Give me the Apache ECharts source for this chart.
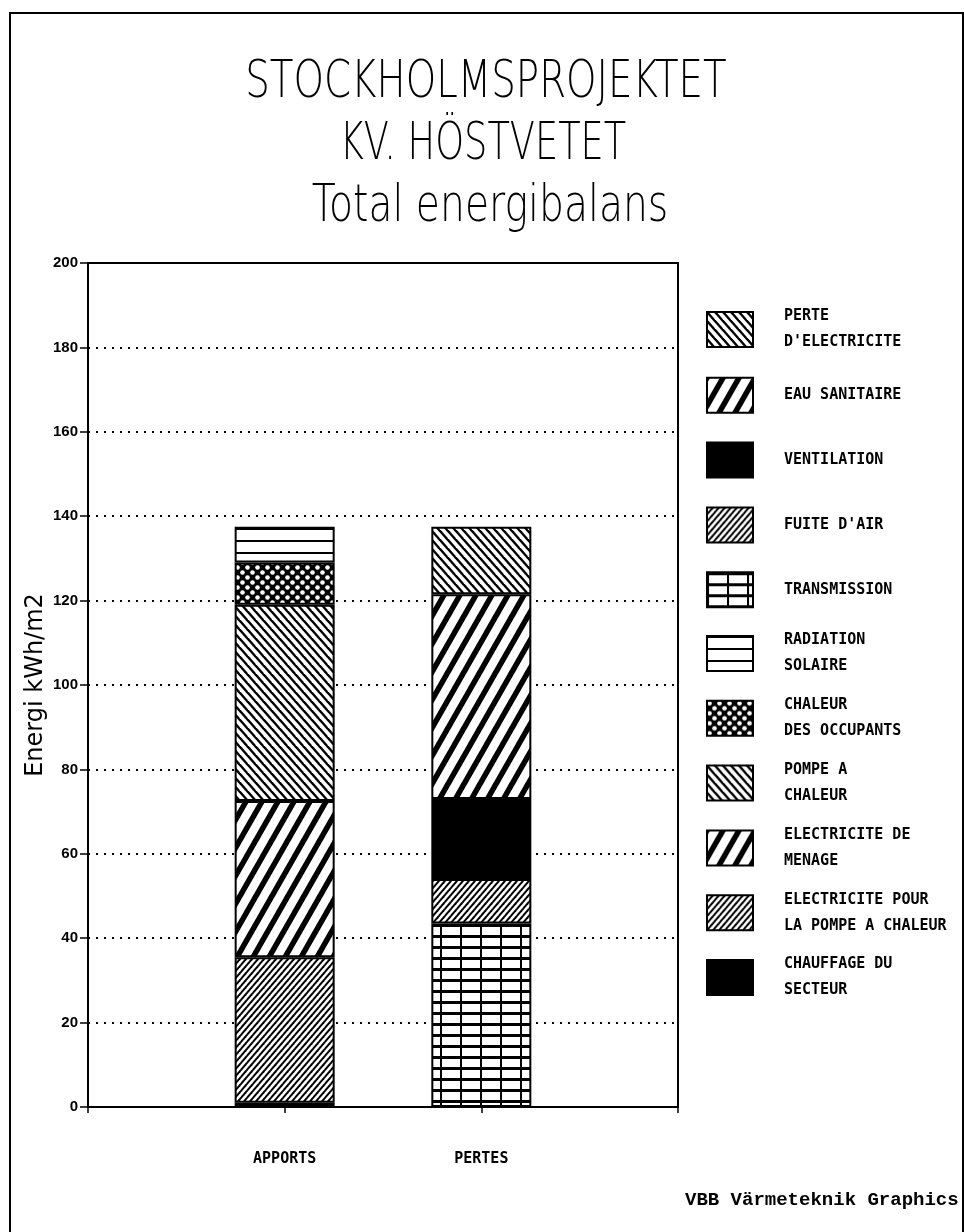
<!DOCTYPE html>
<html>
<head>
<meta charset="utf-8">
<script src="https://cdn.jsdelivr.net/npm/echarts@6/dist/echarts.min.js"></script>
<style>
  html, body { margin: 0; padding: 0; background: #fff; }
  #chart { width: 964px; height: 1232px; }
</style>
</head>
<body>
<div id="chart"></div>
<script>
// ---------- data ----------
const categories = ['APPORTS', 'PERTES'];
const apportsNames = ['CHAUFFAGE DU SECTEUR', 'ELECTRICITE POUR LA POMPE A CHALEUR', 'ELECTRICITE DE MENAGE', 'POMPE A CHALEUR', 'CHALEUR DES OCCUPANTS', 'RADIATION SOLAIRE'];
const apportsValues = [1, 34.5, 37, 46.5, 10, 8.5];
const pertesNames = ['TRANSMISSION', "FUITE D'AIR", 'VENTILATION', 'EAU SANITAIRE', "PERTE D'ELECTRICITE"];
const pertesValues = [43.5, 10.5, 19, 48.5, 16];
const legendOrder = ["PERTE D'ELECTRICITE", 'EAU SANITAIRE', 'VENTILATION', "FUITE D'AIR", 'TRANSMISSION', 'RADIATION SOLAIRE', 'CHALEUR DES OCCUPANTS', 'POMPE A CHALEUR', 'ELECTRICITE DE MENAGE', 'ELECTRICITE POUR LA POMPE A CHALEUR', 'CHAUFFAGE DU SECTEUR'];
const legendText = ["PERTE\nD'ELECTRICITE", 'EAU SANITAIRE', 'VENTILATION', "FUITE D'AIR", 'TRANSMISSION', 'RADIATION\nSOLAIRE', 'CHALEUR\nDES OCCUPANTS', 'POMPE A\nCHALEUR', 'ELECTRICITE DE\nMENAGE', 'ELECTRICITE POUR\nLA POMPE A CHALEUR', 'CHAUFFAGE DU\nSECTEUR'];
const titleLines = ['STOCKHOLMSPROJEKTET', 'KV. HÖSTVETET', 'Total energibalans'];
const yAxisName = 'Energi kWh/m2';
const footer = 'VBB Värmeteknik Graphics';

// ---------- patterns (styles) ----------
function mk(w, h, draw) {
  const c = document.createElement('canvas');
  c.width = w; c.height = h;
  const g = c.getContext('2d');
  g.fillStyle = '#fff'; g.fillRect(0, 0, w, h);
  draw(g, w, h);
  return { image: c, repeat: 'repeat' };
}
function diag(w, h, lw, back) {
  return mk(w, h, (g) => {
    g.strokeStyle = '#000'; g.lineWidth = lw;
    for (let k = -2; k <= 2; k++) {
      g.beginPath();
      if (!back) { g.moveTo(k * w - w, 2 * h); g.lineTo(k * w + 2 * w, -h); }
      else { g.moveTo(k * w - w, -h); g.lineTo(k * w + 2 * w, 2 * h); }
      g.stroke();
    }
  });
}
const fineFwd = diag(6, 7, 2, false);
const thickFwd = diag(16, 28, 5.5, false);
const backHatch = diag(8, 9, 2.4, true);
const dots = mk(10, 10, (g) => {
  g.fillStyle = '#000'; g.fillRect(0, 0, 10, 10);
  g.fillStyle = '#fff';
  g.beginPath(); g.arc(2.5, 2.5, 2.3, 0, Math.PI * 2); g.fill();
  g.beginPath(); g.arc(7.5, 7.5, 2.3, 0, Math.PI * 2); g.fill();
});
const hLines = mk(4, 12, (g) => { g.fillStyle = '#000'; g.fillRect(0, 0, 4, 2); });
const gridPat = mk(20, 11, (g) => { g.fillStyle = '#000'; g.fillRect(0, 0, 20, 3); g.fillRect(0, 0, 2, 11); });
const fills = {
  'CHAUFFAGE DU SECTEUR': '#000',
  'ELECTRICITE POUR LA POMPE A CHALEUR': fineFwd,
  'ELECTRICITE DE MENAGE': thickFwd,
  'POMPE A CHALEUR': backHatch,
  'CHALEUR DES OCCUPANTS': dots,
  'RADIATION SOLAIRE': hLines,
  'TRANSMISSION': gridPat,
  "FUITE D'AIR": fineFwd,
  'VENTILATION': '#000',
  'EAU SANITAIRE': thickFwd,
  "PERTE D'ELECTRICITE": backHatch
};

// ---------- build ----------
const xCats = [''].concat(categories, ['']);
function mkSeries(name, value, catIdx) {
  const d = xCats.map((_, i) => (i === catIdx + 1 ? value : '-'));
  return {
    name: name, type: 'bar', stack: 'total', barWidth: 100, data: d, silent: true,
    itemStyle: { color: fills[name], borderColor: '#000', borderWidth: 2 }
  };
}
const series = [];
apportsNames.forEach((n, i) => series.push(mkSeries(n, apportsValues[i], 0)));
pertesNames.forEach((n, i) => series.push(mkSeries(n, pertesValues[i], 1)));

const monoFont = 'DejaVu Sans Mono';
const iconH = 35, lineH = 26;
const legends = legendOrder.map((n, i) => {
  const lines = legendText[i].split('\n').length;
  const itemH = Math.max(iconH, lines * lineH);
  return {
    data: [n], left: 706, top: 312 + i * 64.8 - (itemH - iconH) / 2, orient: 'vertical', padding: 0,
    itemWidth: 46, itemHeight: iconH, icon: 'rect', selectedMode: false,
    formatter: () => legendText[i],
    textStyle: { fontFamily: monoFont, fontWeight: 'bold', fontSize: 15, lineHeight: lineH, color: '#000', padding: [0, 0, 0, 26] }
  };
});

const chart = echarts.init(document.getElementById('chart'), null, { renderer: 'canvas' });
chart.setOption({
  animation: false,
  backgroundColor: '#fff',
  grid: { left: 88, right: 286, top: 263, bottom: 125, show: true, borderColor: '#000', borderWidth: 2, backgroundColor: 'transparent' },
  legend: legends,
  xAxis: {
    type: 'category', data: xCats, boundaryGap: false,
    axisLine: { lineStyle: { color: '#000', width: 2 } },
    axisTick: { show: true, length: 6, lineStyle: { color: '#000', width: 1.5 } },
    axisLabel: { interval: 0, margin: 45, color: '#000', fontFamily: monoFont, fontWeight: 'bold', fontSize: 15 },
    splitLine: { show: false }
  },
  yAxis: {
    type: 'value', min: 0, max: 200, interval: 20,
    name: yAxisName, nameLocation: 'middle', nameGap: 40, nameMoveOverlap: false,
    nameTextStyle: { fontFamily: 'DejaVu Sans', fontSize: 24, color: '#000' },
    axisLine: { show: true, lineStyle: { color: '#000', width: 2 } },
    axisTick: { show: true, length: 8, lineStyle: { color: '#000', width: 1.5 } },
    axisLabel: { margin: 10, color: '#000', fontFamily: 'Liberation Sans', fontWeight: 'bold', fontSize: 15 },
    splitLine: { show: true, lineStyle: { color: '#000', width: 2, type: [2, 6] } }
  },
  graphic: [
    { type: 'rect', shape: { x: 10, y: 13, width: 953, height: 1260 }, style: { fill: 'none', stroke: '#000', lineWidth: 2 }, silent: true },
    { type: 'text', x: 486, y: 84, scaleX: 0.76, style: { x: 0, y: 0, text: titleLines[0], font: '200 51px "DejaVu Sans"', fill: '#000', textAlign: 'center', textVerticalAlign: 'middle' } },
    { type: 'text', x: 483, y: 146, scaleX: 0.72, style: { x: 0, y: 0, text: titleLines[1], font: '200 51px "DejaVu Sans"', fill: '#000', textAlign: 'center', textVerticalAlign: 'middle' } },
    { type: 'text', x: 490, y: 208, scaleX: 0.77, style: { x: 0, y: 0, text: titleLines[2], font: '200 51px "DejaVu Sans"', fill: '#000', textAlign: 'center', textVerticalAlign: 'middle' } },
    { type: 'text', x: 685, y: 1200, style: { text: footer, font: 'bold 19px "Liberation Mono"', fill: '#000', textAlign: 'left', textVerticalAlign: 'middle' } }
  ],
  series: series
});
</script>
</body>
</html>
